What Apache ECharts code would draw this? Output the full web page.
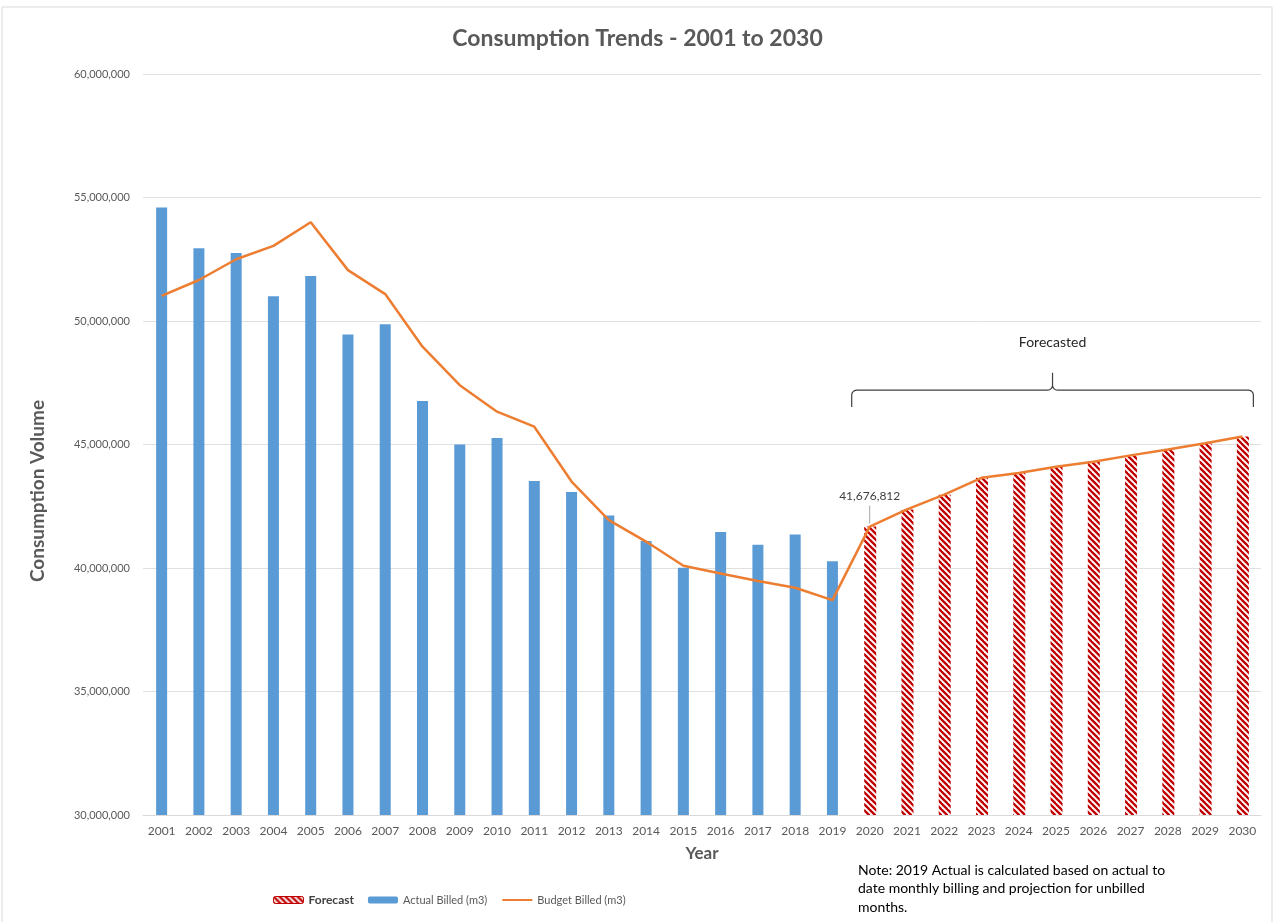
<!DOCTYPE html>
<html>
<head>
<meta charset="utf-8">
<script src="https://cdn.jsdelivr.net/npm/echarts@6/dist/echarts.min.js"></script>
<style>
html,body{margin:0;padding:0;background:#fff;}
#main{width:1275px;height:922px;}
</style>
</head>
<body>
<div id="main"></div>
<script>
var years = ['2001','2002','2003','2004','2005','2006','2007','2008','2009','2010','2011','2012','2013','2014','2015','2016','2017','2018','2019','2020','2021','2022','2023','2024','2025','2026','2027','2028','2029','2030'];
var actualBilled = [54600000, 52950000, 52750000, 51000000, 51820000, 49450000, 49870000, 46760000, 45000000, 45260000, 43520000, 43080000, 42130000, 41090000, 40010000, 41460000, 40940000, 41360000, 40270000];
var forecastValues = [41676812, 42370000, 42970000, 43650000, 43850000, 44100000, 44300000, 44560000, 44800000, 45050000, 45320000];
var budgetBilled = [51020000, 51660000, 52500000, 53040000, 54000000, 52060000, 51090000, 48960000, 47400000, 46330000, 45720000, 43500000, 41940000, 41070000, 40090000, 39780000, 39470000, 39200000, 38700000, 41676812, 42370000, 42970000, 43650000, 43850000, 44100000, 44300000, 44560000, 44800000, 45050000, 45320000];
var yTicks = [30000000, 35000000, 40000000, 45000000, 50000000, 55000000, 60000000];
var noteLines = ['Note: 2019 Actual is calculated based on actual to', 'date monthly billing and projection for unbilled', 'months.'];

var FONT = 'Lato, "Open Sans", sans-serif';
var GRAY = '#595959';

// stripe pattern
var tile = document.createElement('canvas');
tile.width = 6; tile.height = 6;
var tc = tile.getContext('2d');
tc.fillStyle = '#ffffff'; tc.fillRect(0,0,6,6);
tc.strokeStyle = '#c00000'; tc.lineWidth = 2.3;
[-6,0,6].forEach(function(k){ tc.beginPath(); tc.moveTo(k-1,-1); tc.lineTo(k+7,7); tc.stroke(); });

var nActual = actualBilled.length;
var actualSeries = years.map(function(y,i){ return i < nActual ? actualBilled[i] : '-'; });
var forecastSeries = years.map(function(y,i){ return i < nActual ? '-' : forecastValues[i - nActual]; });

var chart = echarts.init(document.getElementById('main'), null, {renderer: 'canvas'});
var option = {
  animation: false,
  backgroundColor: '#fff',
  title: {
    text: 'Consumption Trends - 2001 to 2030',
    left: 'center', top: 22,
    textStyle: {fontFamily: FONT, fontSize: 23, fontWeight: 'bold', color: GRAY}
  },
  grid: {left: 143, right: 14, top: 74, bottom: 107, containLabel: false},
  legend: {
    left: 268, top: 889,
    itemWidth: 30, itemHeight: 7, itemGap: 14,
    textStyle: {fontFamily: FONT, fontSize: 11, color: GRAY},
    data: [
      {name: 'Forecast', itemStyle: {borderColor: '#c00000', borderWidth: 1}, textStyle: {color: '#404040', fontWeight: 'bold', fontSize: 12}},
      {name: 'Actual Billed (m3)'},
      {name: 'Budget Billed (m3)', itemStyle: {opacity: 0}}
    ]
  },
  xAxis: {
    type: 'category', data: years,
    name: 'Year', nameLocation: 'middle', nameGap: 30,
    nameTextStyle: {fontFamily: FONT, fontSize: 17, fontWeight: 'bold', color: GRAY},
    axisLine: {lineStyle: {color: '#d9d9d9'}},
    axisTick: {show: false},
    axisLabel: {fontFamily: FONT, fontSize: 12, color: GRAY, margin: 10, interval: 0}
  },
  yAxis: {
    type: 'value', min: yTicks[0], max: yTicks[yTicks.length-1], interval: yTicks[1]-yTicks[0],
    axisLine: {show: false}, axisTick: {show: false},
    splitLine: {lineStyle: {color: '#e0e0e0'}},
    axisLabel: {fontFamily: FONT, fontSize: 11, color: GRAY, margin: 13,
      formatter: function(v){ return v.toLocaleString('en-US'); }}
  },
  series: [
    {name: 'Forecast', type: 'bar', data: forecastSeries, barWidth: 12, barGap: '-100%',
      itemStyle: {color: {image: tile, repeat: 'repeat'}}},
    {name: 'Actual Billed (m3)', type: 'bar', data: actualSeries, barWidth: 11, barGap: '-100%',
      itemStyle: {color: '#5b9bd5'}},
    {name: 'Budget Billed (m3)', type: 'line', data: budgetBilled, symbol: 'none', showSymbol: false, z: 5,
      lineStyle: {color: '#ed7d31', width: 2.5}, itemStyle: {color: '#ed7d31'}}
  ]
};
chart.setOption(option);

function px(cat, val){ return chart.convertToPixel({xAxisIndex:0, yAxisIndex:0}, [cat, val]); }
var i2020 = years.indexOf('2020');
var p2020 = px('2020', budgetBilled[i2020]);
var left = px('2020', 47200000)[0] - 18;
var right = px('2030', 47200000)[0] + 11;
var yLine = px('2020', 47200000)[1];
var yEnd = px('2020', 46520000)[1];
var yTip = px('2020', 47900000)[1];
var mid = (left + right) / 2;
var yText = px('2020', 49150000)[1];
function arc(cx, cy, r, a0, a1, n){
  var pts = [];
  for (var i = 0; i <= n; i++){ var a = a0 + (a1-a0)*i/n; pts.push([cx + r*Math.cos(a), cy + r*Math.sin(a)]); }
  return pts;
}
var r = 5;
var bracePts = [[left, yEnd]]
  .concat(arc(left + r, yLine + r, r, Math.PI, Math.PI*1.5, 6))
  .concat(arc(mid - r, yLine - r, r, Math.PI*0.5, 0, 6))
  .concat([[mid, yTip]])
  .concat(arc(mid + r, yLine - r, r, Math.PI, Math.PI*0.5, 6))
  .concat(arc(right - r, yLine + r, r, Math.PI*1.5, Math.PI*2, 6))
  .concat([[right, yEnd]]);

chart.setOption({
  graphic: [
    {type: 'rect', shape: {x: 2, y: 7, width: 1270, height: 930}, style: {fill: 'none', stroke: '#d9d9d9', lineWidth: 1}, silent: true, z: -10},
    {type: 'text', x: 38, y: 491, rotation: Math.PI/2,
      style: {text: 'Consumption Volume', fontFamily: FONT, fontSize: 19, fontWeight: 'bold', fill: GRAY, textAlign: 'center', textVerticalAlign: 'middle'}},
    {type: 'polyline', shape: {points: bracePts}, style: {fill: null, stroke: '#404040', lineWidth: 1.2}},
    {type: 'text', x: mid, y: yText, style: {text: 'Forecasted', fontFamily: FONT, fontSize: 14, fill: '#262626', textAlign: 'center', textVerticalAlign: 'middle'}},
    {type: 'line', shape: {x1: p2020[0], y1: p2020[1] - 3, x2: p2020[0], y2: p2020[1] - 21}, style: {stroke: '#a6a6a6', lineWidth: 1}},
    {type: 'text', x: p2020[0], y: p2020[1] - 30, style: {text: budgetBilled[i2020].toLocaleString('en-US'), fontFamily: FONT, fontSize: 12, fill: '#404040', textAlign: 'center', textVerticalAlign: 'middle'}},
    {type: 'text', left: 858, top: 861, style: {text: noteLines.join('\n'), fontFamily: FONT, fontSize: 14, lineHeight: 18.5, fill: '#000'}}
  ]
});
</script>
</body>
</html>
